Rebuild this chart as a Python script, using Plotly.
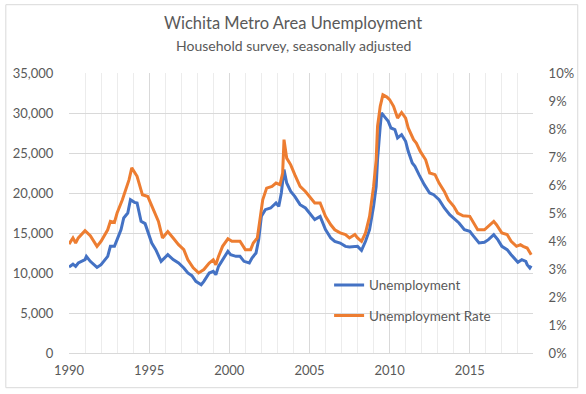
import plotly.graph_objects as go

unemp_dates = [
    "1990-01", "1990-04", "1990-06", "1990-08", "1991-01", "1991-02", "1991-05", "1991-10",
    "1992-01", "1992-06", "1992-08", "1992-11", "1993-01", "1993-04", "1993-06", "1993-09",
    "1993-11", "1994-02", "1994-04", "1994-07", "1994-10", "1995-01", "1995-03", "1995-06",
    "1995-10", "1996-03", "1996-07", "1996-11", "1997-03", "1997-06", "1997-09", "1997-12",
    "1998-04", "1998-06", "1998-10", "1999-01", "1999-03", "1999-05", "1999-08", "1999-12",
    "2000-02", "2000-06", "2000-09", "2000-12", "2001-04", "2001-06", "2001-09", "2001-11",
    "2002-01", "2002-04", "2002-08", "2002-12", "2003-02", "2003-04", "2003-06", "2003-08",
    "2003-11", "2004-02", "2004-06", "2004-10", "2005-01", "2005-05", "2005-09", "2006-01",
    "2006-05", "2006-08", "2006-12", "2007-04", "2007-07", "2007-11", "2008-01", "2008-04",
    "2008-07", "2008-10", "2009-01", "2009-03", "2009-04", "2009-06", "2009-07", "2009-09",
    "2009-12", "2010-02", "2010-05", "2010-07", "2010-10", "2011-01", "2011-03", "2011-06",
    "2011-08", "2011-11", "2012-03", "2012-07", "2012-10", "2013-02", "2013-06", "2013-10",
    "2014-01", "2014-05", "2014-09", "2015-01", "2015-04", "2015-08", "2015-12", "2016-03",
    "2016-07", "2016-10", "2017-01", "2017-05", "2017-08", "2017-10", "2018-01", "2018-04",
    "2018-07", "2018-08", "2018-10", "2018-11",
]
unemployment = [
    10750, 11100, 10830, 11250, 11670, 12080, 11460, 10700,
    11040, 12080, 13330, 13330, 14170, 15420, 16880, 17500,
    19170, 18830, 18750, 16460, 16170, 14580, 13750, 12920,
    11460, 12290, 11670, 11250, 10630, 10000, 9670, 8960,
    8540, 8960, 10000, 10210, 9790, 10830, 11670, 12710,
    12290, 12080, 12080, 11460, 11250, 11880, 12500, 14170,
    17080, 17920, 18125, 18750, 18330, 20000, 22920, 21250,
    20210, 19580, 18540, 18125, 17500, 16670, 17080, 15420,
    14375, 13960, 13750, 13330, 13250, 13330, 13330, 12830,
    13960, 15420, 18330, 20830, 24170, 28330, 30000, 29580,
    28960, 28125, 27920, 26875, 27290, 26460, 25210, 23750,
    23330, 22290, 21040, 20000, 19790, 19170, 18125, 17290,
    16880, 16250, 15420, 15210, 14580, 13750, 13830, 14170,
    14790, 14170, 13330, 12920, 12290, 11880, 11330, 11670,
    11460, 11040, 10625, 10900,
]

rate_dates = [
    "1990-01", "1990-04", "1990-06", "1990-08", "1991-01", "1991-05", "1991-10", "1992-01",
    "1992-06", "1992-08", "1992-11", "1993-01", "1993-05", "1993-08", "1993-10", "1993-12",
    "1994-02", "1994-04", "1994-08", "1994-12", "1995-02", "1995-05", "1995-08", "1995-11",
    "1996-03", "1996-07", "1996-11", "1997-03", "1997-06", "1997-10", "1998-02", "1998-06",
    "1998-10", "1999-01", "1999-03", "1999-05", "1999-08", "1999-12", "2000-03", "2000-09",
    "2001-01", "2001-05", "2001-07", "2001-10", "2001-12", "2002-02", "2002-05", "2002-09",
    "2002-12", "2003-03", "2003-05", "2003-06", "2003-08", "2003-11", "2004-02", "2004-06",
    "2004-10", "2005-01", "2005-05", "2005-09", "2006-01", "2006-05", "2006-08", "2006-12",
    "2007-04", "2007-07", "2007-11", "2008-01", "2008-04", "2008-07", "2008-10", "2009-01",
    "2009-03", "2009-04", "2009-06", "2009-08", "2009-11", "2010-01", "2010-04", "2010-07",
    "2010-10", "2011-01", "2011-03", "2011-07", "2011-09", "2011-12", "2012-04", "2012-07",
    "2012-11", "2013-02", "2013-06", "2013-09", "2014-01", "2014-04", "2014-08", "2015-01",
    "2015-04", "2015-07", "2015-12", "2016-03", "2016-07", "2016-09", "2017-01", "2017-05",
    "2017-08", "2017-12", "2018-03", "2018-05", "2018-08", "2018-11",
]
unemployment_rate = [
    0.0389, 0.0411, 0.0393, 0.0411, 0.0437, 0.0419, 0.0381, 0.0399,
    0.0440, 0.0470, 0.0466, 0.0500, 0.0547, 0.0589, 0.0619, 0.0661,
    0.0645, 0.0631, 0.0565, 0.0559, 0.0536, 0.0506, 0.0470, 0.0411,
    0.0434, 0.0411, 0.0387, 0.0369, 0.0333, 0.0304, 0.0286, 0.0298,
    0.0321, 0.0333, 0.0315, 0.0345, 0.0381, 0.0408, 0.0399, 0.0399,
    0.0369, 0.0369, 0.0393, 0.0411, 0.0476, 0.0547, 0.0589, 0.0595,
    0.0607, 0.0601, 0.0643, 0.0762, 0.0696, 0.0672, 0.0637, 0.0595,
    0.0577, 0.0559, 0.0536, 0.0536, 0.0488, 0.0458, 0.0440, 0.0429,
    0.0423, 0.0411, 0.0423, 0.0411, 0.0399, 0.0429, 0.0488, 0.0595,
    0.0690, 0.0809, 0.0881, 0.0922, 0.0914, 0.0905, 0.0881, 0.0839,
    0.0859, 0.0839, 0.0804, 0.0762, 0.0750, 0.0720, 0.0690, 0.0643,
    0.0637, 0.0607, 0.0577, 0.0547, 0.0524, 0.0500, 0.0490, 0.0488,
    0.0464, 0.0440, 0.0440, 0.0452, 0.0470, 0.0458, 0.0429, 0.0423,
    0.0399, 0.0381, 0.0387, 0.0381, 0.0375, 0.0351,
]

title_text = "Wichita Metro Area Unemployment"
subtitle_text = "Household survey, seasonally adjusted"
series_names = ["Unemployment", "Unemployment Rate"]

FONT = "Lato, 'Open Sans', sans-serif"
GRAY = "#595959"

fig = go.Figure()
fig.add_trace(go.Scatter(
    x=unemp_dates, y=unemployment, name=series_names[0], mode="lines",
    line=dict(color="#4472C4", width=3), legendgroup="a", yaxis="y",
))
fig.add_trace(go.Scatter(
    x=rate_dates, y=unemployment_rate, name=series_names[1], mode="lines",
    line=dict(color="#ED7D31", width=3), legendgroup="b", yaxis="y2",
))

W, H = 586, 394
L, R, T, B = 68.5, 51, 73.3, 40.7
pw, ph = W - L - R, H - T - B

def px_x(p):
    return (p - L) / pw

def px_y(p):
    return (H - B - p) / ph

fig.update_layout(
    width=W, height=H,
    margin=dict(l=L, r=R, t=T, b=B),
    paper_bgcolor="white", plot_bgcolor="white",
    font=dict(family=FONT, color=GRAY, size=13),
    showlegend=True,
    legend=dict(
        x=px_x(330), y=px_y(270), xanchor="left", yanchor="top",
        bgcolor="rgba(0,0,0,0)", borderwidth=0,
        font=dict(size=13.5, color=GRAY), tracegroupgap=10,
    ),
    xaxis=dict(
        type="date", range=["1990-01-01", "2018-12-12"],
        tick0="1990-01-01", dtick="M60", tickformat="%Y",
        showgrid=True, gridcolor="#d9d9d9", gridwidth=1,
        minor=dict(dtick="M12", showgrid=True, gridcolor="#ececec", gridwidth=1),
        showline=True, linecolor="#d9d9d9", linewidth=1,
        ticks="outside", ticklen=5, tickcolor="rgba(0,0,0,0)",
        tickfont=dict(size=13, color=GRAY), zeroline=False,
    ),
    yaxis=dict(
        range=[0, 35000], dtick=5000, tickformat=",",
        showgrid=True, gridcolor="#d9d9d9", gridwidth=1, zeroline=False,
        showline=False, ticks="outside", ticklen=12, tickcolor="rgba(0,0,0,0)",
        tickfont=dict(size=13, color=GRAY),
    ),
    yaxis2=dict(
        range=[0, 0.1], dtick=0.01, tickformat=".0%", overlaying="y", side="right",
        showgrid=False, zeroline=False, showline=False,
        ticks="outside", ticklen=12, tickcolor="rgba(0,0,0,0)",
        tickfont=dict(size=13, color=GRAY),
    ),
    shapes=[
        dict(type="rect", xref="paper", yref="paper",
             x0=px_x(5), x1=px_x(580), y0=px_y(388), y1=px_y(5),
             line=dict(color="#d9d9d9", width=1), fillcolor="rgba(0,0,0,0)", layer="below"),
        dict(type="rect", xref="paper", yref="paper",
             x0=px_x(310), x1=px_x(520), y0=px_y(337), y1=px_y(272),
             line=dict(width=0), fillcolor="white", layer="between"),
    ],
    annotations=[
        dict(text=title_text, xref="paper", yref="paper", x=px_x(294), y=px_y(23),
             xanchor="center", yanchor="middle", showarrow=False,
             font=dict(size=16.5, color=GRAY, family=FONT)),
        dict(text=subtitle_text, xref="paper", yref="paper", x=px_x(294), y=px_y(46),
             xanchor="center", yanchor="middle", showarrow=False,
             font=dict(size=14, color=GRAY, family=FONT)),
    ],
)

fig.write_html("out.html", config={"displayModeBar": False},
               post_script="document.body.style.margin='0';")
